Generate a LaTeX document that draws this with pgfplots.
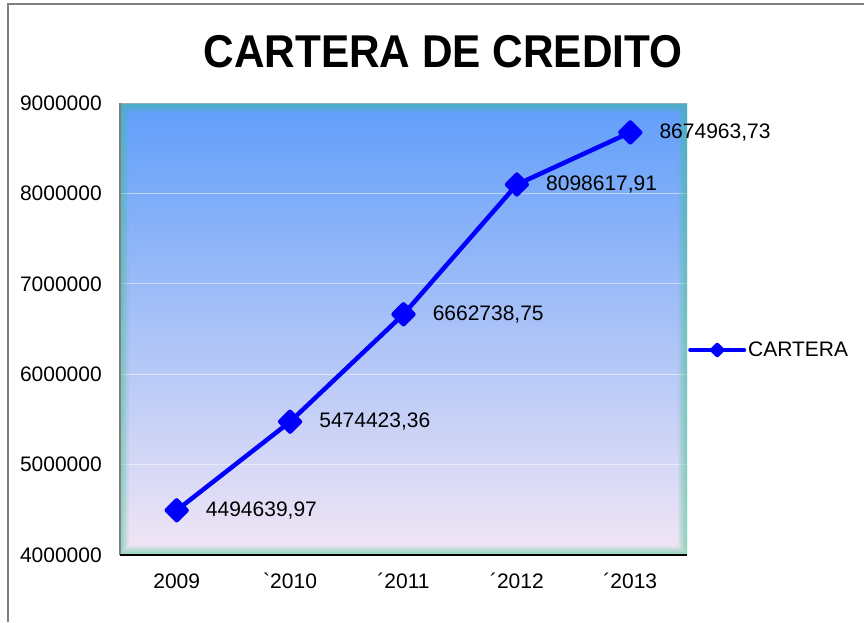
\documentclass[border=0pt]{standalone}
\usepackage{pgfplots}
\pgfplotsset{compat=1.18}
\usepackage{fontspec}
\usepackage{graphicx}
\setmainfont{Liberation Sans}
\newfontfamily\arial{Liberation Sans}[Ligatures=TeXOff]
\definecolor{lineblue}{RGB}{0,0,255}
\definecolor{framegray}{RGB}{128,128,128}
\definecolor{bgtop}{RGB}{96,158,250}
\definecolor{bgmid}{RGB}{145,192,247}
\definecolor{bgbot}{RGB}{243,230,245}
\definecolor{glow}{RGB}{60,195,140}
\definecolor{topedge}{RGB}{150,170,190}
\begin{document}
\begin{tikzpicture}
\useasboundingbox (-120pt,-67pt) rectangle (744pt,555pt);
\draw[framegray, line width=1.5pt] (-112pt,-67pt) -- (-112pt,551pt) -- (744pt,551pt);
\begin{axis}[name=ax, at={(0,0)}, anchor=south west, scale only axis,
  width=567pt, height=452pt,
  xmin=-0.5, xmax=4.5, ymin=4000000, ymax=9000000,
  scaled y ticks=false,
  xtick={0,1,2,3,4}, xticklabels={2009,`2010,´2011,´2012,´2013},
  ytick={4000000,5000000,6000000,7000000,8000000,9000000},
  yticklabels={4000000,5000000,6000000,7000000,8000000,9000000},
  major tick length=0pt, tick style={draw=none},
  axis line style={draw=none},
  ymajorgrids, major grid style={white, opacity=0.5, line width=0.8pt},
  axis background/.style={top color=bgtop, middle color=bgmid, bottom color=bgbot},
  ticklabel style={font=\arial\fontsize{21}{24}\selectfont, inner sep=0pt},
  yticklabel style={xshift=-18pt},
  xticklabel style={yshift=-18pt, text height=15pt, text depth=0pt},
  legend style={at={(1,0.4535)}, anchor=west, xshift=1pt, draw=none, fill=none,
    inner sep=0pt, font=\arial\fontsize{21}{24}\selectfont},
  legend cell align=left,
  legend image code/.code={
    \draw[lineblue, line width=4pt, line cap=round] (0pt,0pt) -- (54pt,0pt);
    \fill[lineblue] (27pt,5pt) -- (32pt,0pt) -- (27pt,-5pt) -- (22pt,0pt) -- cycle;
  },
]
\pgfplotsinvokeforeach{3,6,9,12,15,18}{
  \draw[glow, opacity=0.11, line width=#1pt] (rel axis cs:0,0) rectangle (rel axis cs:1,1);
}
\addplot[lineblue, line width=4.5pt, line join=round,
  mark=square*, mark size=7pt, mark options={rotate=45, solid},
  point meta=explicit symbolic, nodes near coords,
  nodes near coords style={anchor=west, xshift=27pt, inner sep=0pt, text=black,
    font=\arial\fontsize{21}{24}\selectfont}]
coordinates {
  (0,4494639.97) [{4494639,97}]
  (1,5474423.36) [{5474423,36}]
  (2,6662738.75) [{6662738,75}]
  (3,8098617.91) [{8098617,91}]
  (4,8674963.73) [{8674963,73}]
};
\addlegendentry{CARTERA}
\end{axis}
\draw[topedge, line width=1pt] (ax.north west) -- (ax.north east);
\draw[framegray, line width=2pt] (ax.south west) -- (ax.north west);
\draw[black, line width=1.5pt] (ax.south west) -- (ax.south east);
\node[anchor=base, font=\arial\bfseries\fontsize{46}{50}\selectfont] at (323pt,487pt)
  {\scalebox{0.92}[1]{CARTERA DE CREDITO}};
\end{tikzpicture}
\end{document}
